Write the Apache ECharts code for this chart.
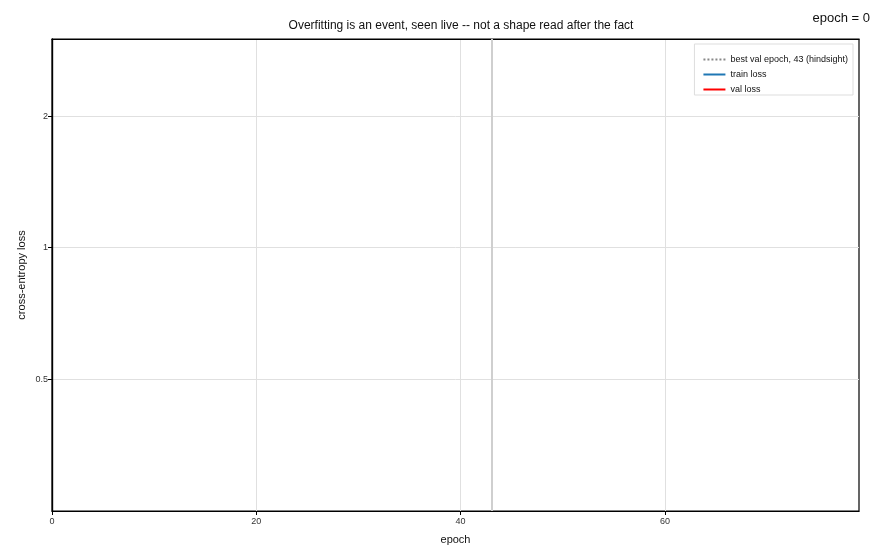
<!DOCTYPE html>
<html><head><meta charset="utf-8">
<script src="https://cdn.jsdelivr.net/npm/echarts@6/dist/echarts.min.js"></script>
<style>html,body{margin:0;padding:0;background:#fff}#c{width:880px;height:560px}</style>
</head><body><div id="c"></div>
<script>
const epochs = [];          // epochs revealed so far (frame at epoch 0: nothing drawn yet)
const trainLoss = [];
const valLoss = [];
const bestEpoch = 43;
const currentEpoch = 0;
const xTicks = [0, 20, 40, 60];
const yTicks = [0.5, 1, 2];
const xMax = 79, yMin = 0.25, yMax = 3;

const chart = echarts.init(document.getElementById('c'), null, {renderer: 'canvas'});
const font = 'Liberation Sans, Arial, sans-serif';
const bestName = 'best val epoch, ' + bestEpoch + ' (hindsight)';
chart.setOption({
  animation: false,
  backgroundColor: '#fff',
  textStyle: {fontFamily: font},
  title: [{
    text: 'Overfitting is an event, seen live -- not a shape read after the fact',
    left: 456, top: 15, textAlign: 'center',
    textStyle: {fontSize: 12, fontWeight: 'normal', color: '#111', fontFamily: font}
  }, {
    text: 'epoch = ' + currentEpoch,
    right: 5, top: 7,
    textStyle: {fontSize: 13, fontWeight: 'normal', color: '#111', fontFamily: font}
  }],
  legend: {
    orient: 'vertical', right: 27, top: 44,
    backgroundColor: '#fff', borderColor: '#ddd', borderWidth: 1,
    padding: [11, 5, 1, 8], itemGap: 6, itemWidth: 22, itemHeight: 10,
    itemStyle: {opacity: 0},
    textStyle: {fontSize: 9, color: '#111', fontFamily: font},
    data: [bestName, 'train loss', 'val loss']
  },
  grid: {left: 52, right: 21, top: 39, bottom: 49, show: true, borderColor: '#000', borderWidth: 1.2, backgroundColor: '#fff'},
  xAxis: [{
    type: 'value', min: 0, max: xMax, interval: 20,
    name: 'epoch', nameLocation: 'middle', nameGap: 23,
    nameTextStyle: {fontSize: 11, color: '#111'},
    axisLine: {lineStyle: {color: '#000', width: 1.2}},
    axisTick: {show: true, length: 4, lineStyle: {color: '#000'}},
    axisLabel: {fontSize: 9, color: '#333', margin: 6, showMaxLabel: false,
      formatter: v => xTicks.includes(v) ? String(v) : ''},
    splitLine: {show: true, showMaxLine: false, lineStyle: {color: '#e0e0e0', width: 1}}
  }, {
    type: 'value', min: 0, max: xMax, position: 'top',
    axisLine: {show: true, lineStyle: {color: '#000', width: 1.2}},
    axisTick: {show: false}, axisLabel: {show: false}, splitLine: {show: false}
  }],
  yAxis: [{
    type: 'log', logBase: 2, min: yMin, max: yMax,
    name: 'cross-entropy loss', nameLocation: 'middle', nameGap: 25, nameMoveOverlap: false,
    nameTextStyle: {fontSize: 11, color: '#111'},
    axisLine: {show: true, lineStyle: {color: '#000', width: 1.2}},
    axisTick: {show: true, length: 4, lineStyle: {color: '#000'}},
    axisLabel: {fontSize: 9, color: '#333', margin: 4, showMinLabel: false, showMaxLabel: false,
      formatter: v => { const r = Math.round(v * 1000) / 1000; return yTicks.includes(r) ? String(r) : ''; }},
    splitLine: {show: true, showMaxLine: false, showMinLine: false, lineStyle: {color: '#e0e0e0', width: 1}}
  }, {
    type: 'log', logBase: 2, min: yMin, max: yMax, position: 'right',
    axisLine: {show: true, lineStyle: {color: '#000', width: 1.2}},
    axisTick: {show: false}, axisLabel: {show: false}, splitLine: {show: false}
  }],
  series: [{
    name: bestName, type: 'line', data: [], symbol: 'none',
    lineStyle: {color: '#888', width: 2, type: [2, 2]},
    itemStyle: {color: '#888'},
    markLine: {
      silent: true, symbol: 'none', label: {show: false},
      lineStyle: {color: '#cfcfcf', width: 2, type: 'solid'},
      data: [{xAxis: bestEpoch}]
    }
  }, {
    name: 'train loss', type: 'line', symbol: 'none',
    data: epochs.map((e, i) => [e, trainLoss[i]]),
    lineStyle: {color: '#1f77b4', width: 2}, itemStyle: {color: '#1f77b4'}
  }, {
    name: 'val loss', type: 'line', symbol: 'none',
    data: epochs.map((e, i) => [e, valLoss[i]]),
    lineStyle: {color: '#ff0000', width: 2}, itemStyle: {color: '#ff0000'}
  }]
});
</script></body></html>
